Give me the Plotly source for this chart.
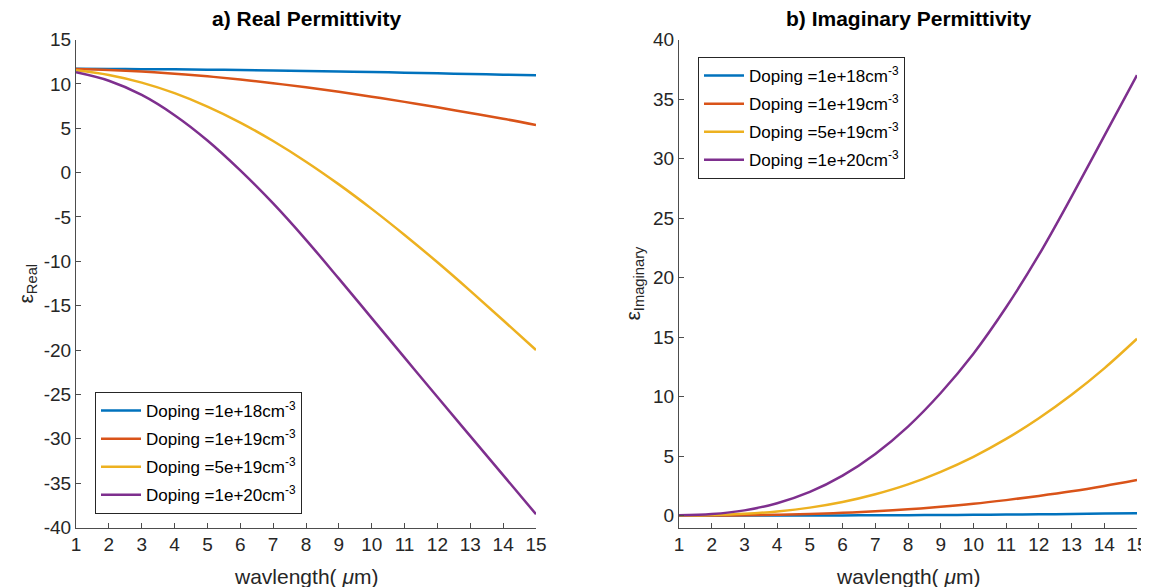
import plotly.graph_objects as go

# ---- data ----
wavelength = [1, 2, 3, 4, 5, 6, 7, 8, 9, 10, 11, 12, 13, 14, 15]
labels = ["Doping =1e+18cm<sup>-3</sup>", "Doping =1e+19cm<sup>-3</sup>",
          "Doping =5e+19cm<sup>-3</sup>", "Doping =1e+20cm<sup>-3</sup>"]
colors = ["#0072BD", "#D95319", "#EDB120", "#7E2F8E"]

real_1e18 = [11.70, 11.68, 11.66, 11.64, 11.60, 11.56, 11.51, 11.45, 11.39, 11.33, 11.26, 11.19, 11.11, 11.04, 10.96]
real_1e19 = [11.67, 11.56, 11.39, 11.15, 10.85, 10.49, 10.07, 9.61, 9.10, 8.55, 7.97, 7.36, 6.72, 6.07, 5.35]
real_5e19 = [11.53, 11.00, 10.14, 8.95, 7.44, 5.64, 3.56, 1.23, -1.33, -4.09, -7.03, -10.11, -13.33, -16.64, -20.0]
real_1e20 = [11.30, 10.35, 8.75, 6.47, 3.62, 0.25, -3.48, -7.58, -11.95, -16.40, -20.85, -25.30, -29.70, -34.10, -38.50]

imag_1e18 = [0.0, 0.001, 0.002, 0.005, 0.009, 0.015, 0.024, 0.035, 0.05, 0.066, 0.087, 0.11, 0.136, 0.166, 0.2]
imag_1e19 = [0.001, 0.009, 0.03, 0.07, 0.135, 0.23, 0.36, 0.53, 0.74, 0.99, 1.30, 1.65, 2.04, 2.49, 2.99]
imag_5e19 = [0.005, 0.044, 0.147, 0.345, 0.67, 1.14, 1.79, 2.62, 3.68, 4.94, 6.44, 8.18, 10.15, 12.37, 14.86]
imag_1e20 = [0.02, 0.13, 0.44, 1.04, 1.99, 3.36, 5.18, 7.48, 10.3, 13.6, 17.5, 21.9, 26.8, 31.9, 37.0]

real_series = [real_1e18, real_1e19, real_5e19, real_1e20]
imag_series = [imag_1e18, imag_1e19, imag_5e19, imag_1e20]

x_ticks = list(range(1, 16))
real_ticks = [-40, -35, -30, -25, -20, -15, -10, -5, 0, 5, 10, 15]
imag_ticks = [0, 5, 10, 15, 20, 25, 30, 35, 40]

# ---- figure ----
VIEW_W, VIEW_H = 1149, 587
OFF = 8  # page body margin
W, H = VIEW_W - OFF, VIEW_H - OFF
FONT = "Liberation Sans, Arial, sans-serif"
TXT = "#262626"
AX = "#4d4d4d"

fig = go.Figure()
for i, (ys, lab, c) in enumerate(zip(real_series, labels, colors)):
    fig.add_trace(go.Scatter(x=wavelength, y=ys, mode="lines", name=lab,
                             line=dict(color=c, width=2.5, shape="spline"),
                             xaxis="x", yaxis="y", legend="legend",
                             legendgroup=f"r{i}"))
for i, (ys, lab, c) in enumerate(zip(imag_series, labels, colors)):
    fig.add_trace(go.Scatter(x=wavelength, y=ys, mode="lines", name=lab,
                             line=dict(color=c, width=2.5, shape="spline"),
                             xaxis="x2", yaxis="y2", legend="legend2",
                             legendgroup=f"i{i}"))

def px_x(p):
    return (p - OFF) / W

def px_y(p):
    return 1 - (p - OFF) / H

ytop, ybot = 39.5, 527.5
common_axis = dict(showgrid=False, zeroline=False, showline=True, linecolor=AX,
                   linewidth=1, ticks="inside", ticklen=5, tickcolor=AX,
                   automargin=False,
                   tickfont=dict(family=FONT, size=19, color=TXT), mirror=False)

legend_style = dict(xanchor="left", yanchor="top",
                    bgcolor="white", bordercolor="#262626", borderwidth=1,
                    font=dict(family=FONT, size=17, color="black"),
                    itemwidth=40, tracegroupgap=3)

fig.update_layout(
    width=W, height=H,
    paper_bgcolor="white", plot_bgcolor="white",
    margin=dict(l=0, r=0, t=0, b=0, autoexpand=False),
    showlegend=True,
    xaxis=dict(domain=[px_x(76), px_x(536)], range=[1, 15], tickvals=x_ticks,
               ticktext=[str(v) for v in x_ticks], anchor="y", **common_axis),
    yaxis=dict(domain=[px_y(ybot), px_y(ytop)], range=[-40, 15], tickvals=real_ticks,
               ticktext=[str(v) for v in real_ticks], anchor="x", **common_axis),
    xaxis2=dict(domain=[px_x(679), px_x(1137)], range=[1, 15], tickvals=x_ticks,
                ticktext=[str(v) for v in x_ticks], anchor="y2", **common_axis),
    yaxis2=dict(domain=[px_y(ybot), px_y(ytop)], range=[-1, 40], tickvals=imag_ticks,
                ticktext=[str(v) for v in imag_ticks], anchor="x2", **common_axis),
    legend=dict(x=px_x(95), y=px_y(392), **legend_style),
    legend2=dict(x=px_x(698), y=px_y(57), **legend_style),
)

annos = [
    dict(text="<b>a) Real Permittivity</b>", x=px_x(306), y=px_y(18), size=21, angle=0, color="black"),
    dict(text="<b>b) Imaginary Permittivity</b>", x=px_x(908), y=px_y(18), size=21, angle=0, color="black"),
    dict(text="wavlength( <i>μ</i>m)", x=px_x(306), y=px_y(576), size=21, angle=0, color=TXT),
    dict(text="wavlength( <i>μ</i>m)", x=px_x(908), y=px_y(576), size=21, angle=0, color=TXT),
    dict(text="ε<sub>Real</sub>", x=px_x(26), y=px_y(283.5), size=21, angle=-90, color=TXT),
    dict(text="ε<sub>Imaginary</sub>", x=px_x(633), y=px_y(283.5), size=21, angle=-90, color=TXT),
]
for a in annos:
    fig.add_annotation(text=a["text"], x=a["x"], y=a["y"], xref="paper", yref="paper",
                       xanchor="center", yanchor="middle", showarrow=False,
                       textangle=a["angle"],
                       font=dict(family=FONT, size=a["size"], color=a["color"]))

fig.write_html("out.html", post_script="document.body.style.overflow='hidden';")
